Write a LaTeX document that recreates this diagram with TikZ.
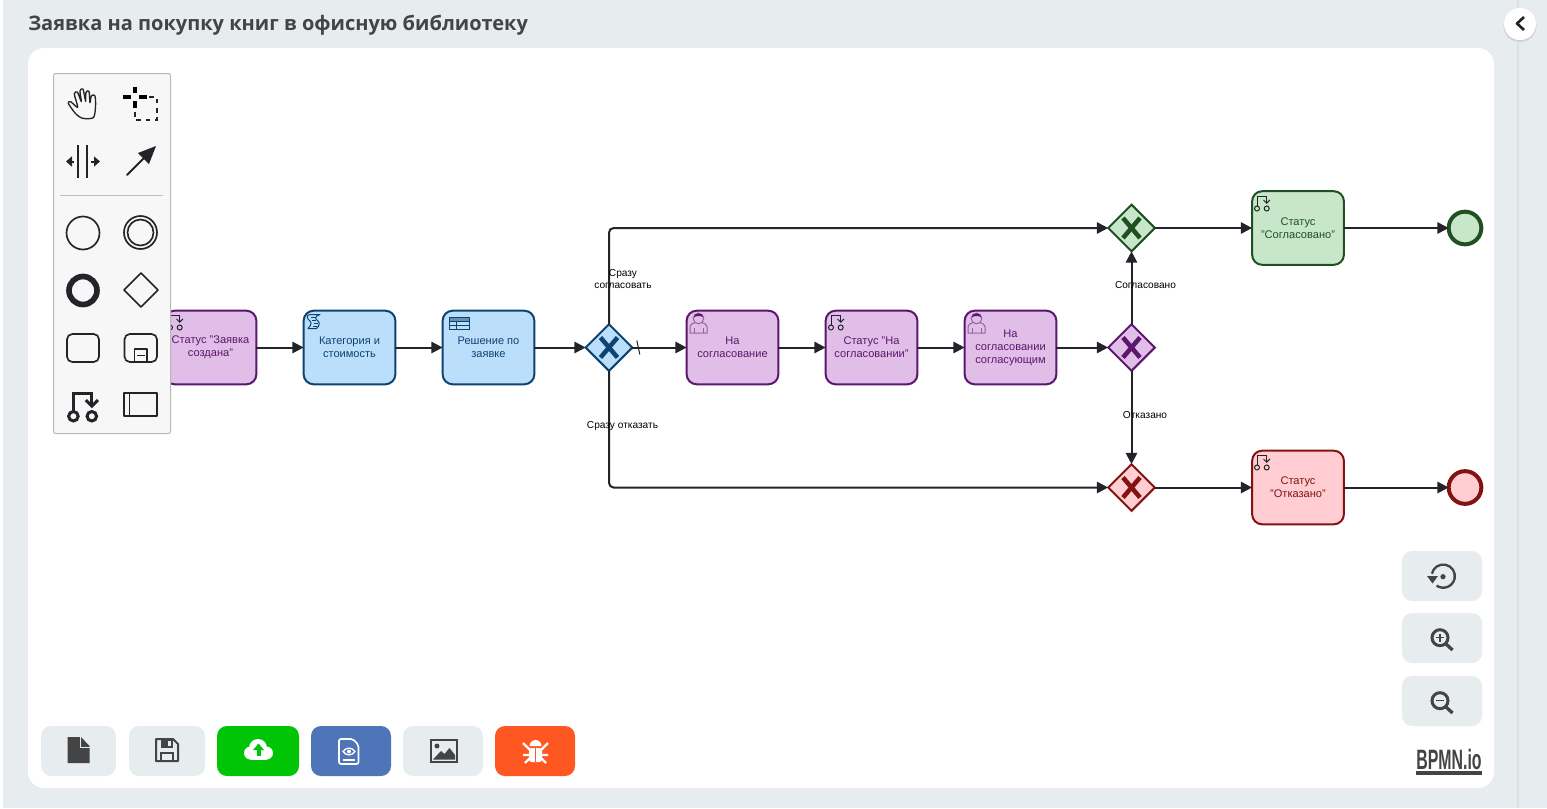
\documentclass[tikz,border=0pt]{standalone}
\usepackage{fontspec}
\setmainfont{Liberation Sans}
\newfontfamily\titlefont{Open Sans}
\usetikzlibrary{arrows.meta,shapes.geometric}
\definecolor{pagegray}{HTML}{E7ECEF}
\definecolor{inkdark}{HTML}{22242A}
\definecolor{icondark}{HTML}{444444}
\definecolor{purplefill}{HTML}{E1BEE7}
\definecolor{purpleline}{HTML}{5B176D}
\definecolor{bluefill}{HTML}{BBDEFB}
\definecolor{blueline}{HTML}{0D4372}
\definecolor{greenfill}{HTML}{C8E6C9}
\definecolor{greenline}{HTML}{205022}
\definecolor{redfill}{HTML}{FFCDD2}
\definecolor{redline}{HTML}{831311}
\definecolor{btngreen}{HTML}{00C406}
\definecolor{btnblue}{HTML}{4D75B8}
\definecolor{btnorange}{HTML}{FF5722}
\tikzset{
	bpmntask/.style n args={2}{draw=#2,fill=#1,text=#2,line width=1.5pt,rounded corners=7.5pt,minimum width=68.8pt,minimum height=55.2pt,align=center,inner sep=0pt,outer sep=0pt,font=\fontsize{8.3}{9.8}\selectfont},
	bpmngate/.style n args={2}{draw=#2,fill=#1,diamond,line width=1.5pt,minimum size=35pt,inner sep=0pt,outer sep=0pt},
	bpmnend/.style n args={2}{draw=#2,fill=#1,circle,line width=3pt,minimum size=24.5pt,inner sep=0pt,outer sep=0pt},
	flowline/.style={draw=inkdark,line width=1.5pt,-{Triangle[length=8.5pt,width=8.5pt]},rounded corners=3.5pt},
	flowlabel/.style={text=black,align=center,inner sep=0pt,font=\fontsize{7.6}{9.6}\selectfont},
	uibutton/.style={fill=pagegray,rounded corners=7.5pt,minimum width=#1,minimum height=37.5pt,inner sep=0pt},
	iconline/.style={draw=inkdark,line width=1.25pt,line join=round}
}
\def\statusmark#1#2{
	\draw[#1,line width=#2] (6,14.5) -- (6,5.5) -- (15.7,5.5) -- (15.7,12);
	\draw[#1,line width=#2] (12.5,9) -- (15.7,12.2) -- (18.9,9);
	\draw[#1,line width=#2] (6,17.5) circle[radius=2.5];
	\draw[#1,line width=#2] (15.7,17.5) circle[radius=2.5];
}
\def\usermark{
	\draw[purpleline!55!purplefill,fill=purplefill,line width=.75pt] (4,23) -- (4,16.5) .. controls (4,14) and (7,13.5) .. (9.5,12.5) -- (16,12.5) .. controls (18,13.5) and (21,14) .. (21,16.5) -- (21,23) -- cycle;
	\draw[purpleline!55!purplefill,line width=.75pt] (8,23) -- (8,18) (17,23) -- (17,18);
	\draw[purpleline!55!purplefill,fill=purplefill,line width=.75pt] (12.5,8.5) circle[radius=5.3];
	\fill[purpleline] (7.5,7.5) .. controls (8,2) and (17,2) .. (17.6,7.5) .. controls (15,5.5) and (10,5.5) .. (7.5,7.5) -- cycle;
}
\def\gatecross#1#2{
	\draw[#2,line width=3.4pt] (#1) ++(-8.5,-10) -- ++(17,20);
	\draw[#2,line width=3.4pt] (#1) ++(8.5,-10) -- ++(-17,20);
}
\begin{document}
\begin{tikzpicture}[x=0.75pt,y=-0.75pt]
	\useasboundingbox (0,0) rectangle (1547,808);
	\fill[pagegray] (0,0) rectangle (1547,808);
	\fill[white] (0,0) rectangle (3,808);
	\draw[black!12,line width=1pt] (1518,0) -- (1518,808);
	\fill[white,rounded corners=12pt] (28,48) rectangle (1494,788);
	\node[anchor=west,text=icondark,inner sep=0pt,font=\titlefont\bfseries\fontsize{15}{18}\selectfont] (pagetitle) at (28,25) {Заявка на покупку книг в офисную библиотеку};

	%collapse button
	\fill[black!18] (1520,25.5) circle[radius=16.5];
	\node[circle,fill=white,minimum size=24pt,inner sep=0pt] (collapsebtn) at (1520,24) {};
	\draw[inkdark,line width=2pt,line join=round] (1524,17) -- (1517,23.5) -- (1524,30);

	%tasks
	\node[bpmntask={purplefill}{purpleline}] (taskcreated) at (210.5,347.5) {Статус "Заявка\\создана"};
	\node[bpmntask={bluefill}{blueline}] (taskcategory) at (349.5,347.5) {Категория и\\стоимость};
	\node[bpmntask={bluefill}{blueline}] (taskdecision) at (488.5,347.5) {Решение по\\заявке};
	\node[bpmntask={purplefill}{purpleline}] (taskapprove) at (732.5,347.5) {На\\согласование};
	\node[bpmntask={purplefill}{purpleline}] (taskpending) at (871.5,347.5) {Статус "На\\согласовании"};
	\node[bpmntask={purplefill}{purpleline}] (taskreview) at (1010.5,347.5) {На\\согласовании\\согласующим};
	\node[bpmntask={greenfill}{greenline}] (taskagreed) at (1298,228) {Статус\\"Согласовано"};
	\node[bpmntask={redfill}{redline}] (taskrefused) at (1298,487.5) {Статус\\"Отказано"};

	%gateways and ends
	\node[bpmngate={bluefill}{blueline}] (gatefirst) at (609,347.5) {};
	\node[bpmngate={purplefill}{purpleline}] (gatereview) at (1131.5,347.5) {};
	\node[bpmngate={greenfill}{greenline}] (gateagreed) at (1131.5,228) {};
	\node[bpmngate={redfill}{redline}] (gaterefused) at (1131.5,487.5) {};
	\gatecross{gatefirst}{blueline}
	\gatecross{gatereview}{purpleline}
	\gatecross{gateagreed}{greenline}
	\gatecross{gaterefused}{redline}
	\node[bpmnend={greenfill}{greenline}] (endagreed) at (1465,228) {};
	\node[bpmnend={redfill}{redline}] (endrefused) at (1465,487.5) {};

	%task markers
	\begin{scope}[shift={(164,310)}] \statusmark{inkdark}{.75pt} \end{scope}
	\begin{scope}[shift={(825,310)}] \statusmark{inkdark}{.75pt} \end{scope}
	\begin{scope}[shift={(1251,191)}] \statusmark{inkdark}{.75pt} \end{scope}
	\begin{scope}[shift={(1251,450)}] \statusmark{inkdark}{.75pt} \end{scope}
	\begin{scope}[shift={(686,310)}] \usermark \end{scope}
	\begin{scope}[shift={(964,310)}] \usermark \end{scope}
	\begin{scope}[shift={(303,310)}]
		\draw[blueline,line width=.75pt,line join=round] (7,4.5) .. controls (3,5) and (4,9) .. (6.5,10.5) .. controls (9,12.5) and (8.5,15) .. (5,18.5) -- (13.5,18.5) .. controls (17,15) and (17,12.5) .. (14.5,10.5) .. controls (12,9) and (11.5,6) .. (17,4.5) -- cycle;
		\draw[blueline,line width=.5pt] (8,7.5) -- (13,7.5) (9,10.5) -- (13,10.5) (10.5,13.5) -- (15,13.5) (10,16) -- (14,16);
	\end{scope}
	\begin{scope}[shift={(442,310)}]
		\fill[blueline!50!bluefill] (7,7) rectangle (27,11);
		\draw[blueline,line width=.75pt] (7,7) rectangle (27,19);
		\draw[blueline,line width=.75pt] (7,11) -- (27,11) (7,15) -- (27,15) (14,11) -- (14,19);
	\end{scope}

	%flows
	\draw[flowline] (taskcreated) -- (taskcategory);
	\draw[flowline] (taskcategory) -- (taskdecision);
	\draw[flowline] (taskdecision) -- (gatefirst);
	\draw[flowline] (gatefirst) -- (taskapprove);
	\draw[flowline] (taskapprove) -- (taskpending);
	\draw[flowline] (taskpending) -- (taskreview);
	\draw[flowline] (taskreview) -- (gatereview);
	\draw[flowline] (gatereview) -- (gateagreed);
	\draw[flowline] (gatereview) -- (gaterefused);
	\draw[flowline] (gatefirst.north) |- (gateagreed.west);
	\draw[flowline] (gatefirst.south) |- (gaterefused.west);
	\draw[flowline] (gateagreed) -- (taskagreed);
	\draw[flowline] (gaterefused) -- (taskrefused);
	\draw[flowline] (taskagreed) -- (endagreed);
	\draw[flowline] (taskrefused) -- (endrefused);
	\draw[inkdark,line width=.75pt] (gatefirst.east) ++(4.5,-7) -- ++(3,14);

	\node[flowlabel] (labelnow) at (623,279) {Сразу\\согласовать};
	\node[flowlabel] (labelno) at (622.5,426) {Сразу отказать};
	\node[flowlabel] (labelok) at (1145.5,285) {Согласовано};
	\node[flowlabel] (labelrefused) at (1145,415) {Отказано};

	%palette
	\draw[black!28,fill=black!3,line width=.75pt,rounded corners=1.5pt] (53.5,73.5) rectangle (170.5,433.5);
	\draw[black!25,line width=.75pt] (60,195.5) -- (163,195.5);
	\begin{scope}[shift={(40,60)},scale=.3333]
		\draw[inkdark,line width=1pt,line join=round] plot[smooth cycle,tension=.45] coordinates {(128,175) (106,160) (85,130) (92,125) (113,142) (103,102) (112,96) (124,125) (120,93) (129,87) (137,124) (138,97) (147,94) (150,128) (154,108) (164,106) (167,130) (161,172)};
	\end{scope}
	\draw[black,line width=3pt] (123,97) -- (131,97) (139,97) -- (147,97) (135,87) -- (135,93) (135,101) -- (135,108);
	\draw[inkdark,line width=1pt,dash pattern=on 3.5pt off 3.5pt] (135,112) -- (135,120) -| (157,97) -- (149,97);
	\draw[inkdark,line width=1.25pt] (78,145) -- (78,178) (87,145) -- (87,178);
	\draw[inkdark,line width=1.5pt,-{Triangle[length=4.5pt,width=7.5pt]}] (74,161.5) -- (66,161.5);
	\draw[inkdark,line width=1.5pt,-{Triangle[length=4.5pt,width=7.5pt]}] (91,161.5) -- (100,161.5);
	\fill[inkdark] (156,146) -- (149,164) -- (138,153) -- cycle;
	\draw[inkdark,line width=1.5pt,line cap=round] (127,175) -- (146,156);
	\draw[iconline] (83,233) circle[radius=16.5];
	\draw[iconline] (140.5,232.5) circle[radius=16.5];
	\draw[iconline] (140.5,232.5) circle[radius=13];
	\draw[inkdark,line width=4.25pt] (83,290.5) circle[radius=14];
	\draw[iconline] (141,273) -- (158,290) -- (141,307) -- (124,290) -- cycle;
	\draw[iconline,rounded corners=4pt] (67,334) rectangle (99,362);
	\draw[iconline,rounded corners=4pt] (124.5,334) rectangle (157,362);
	\draw[iconline] (134.5,349) rectangle (147,362);
	\draw[iconline] (137,355.5) -- (144.5,355.5);
	\begin{scope}[shift={(62,383)},scale=1.9]
		\statusmark{inkdark}{2.25pt}
	\end{scope}
	\draw[iconline,line width=1.5pt] (124,393) rectangle (157,416);
	\draw[iconline] (129.5,393) -- (129.5,416);

	%bottom buttons
	\node[uibutton=56pt] (btnnew) at (78.5,751) {};
	\node[uibutton=57pt] (btnsave) at (167,751) {};
	\node[uibutton=61.5pt,fill=btngreen] (btnupload) at (258,751) {};
	\node[uibutton=60pt,fill=btnblue] (btnpreview) at (351,751) {};
	\node[uibutton=60pt] (btnimage) at (443,751) {};
	\node[uibutton=60pt,fill=btnorange] (btnbug) at (535,751) {};
	\fill[icondark] (67.5,737) -- (81,737) -- (89.5,746) -- (89.5,763) -- (67.5,763) -- cycle;
	\draw[pagegray,line width=.75pt] (80,737) -- (80,747) -- (90,747);
	\draw[icondark,line width=1.5pt,line join=round] (156,739) -- (173,739) -- (178,744) -- (178,761) -- (156,761) -- cycle;
	\fill[icondark] (161,739) rectangle (173,748);
	\fill[pagegray] (168,741) rectangle (171,746);
	\draw[icondark,line width=1.25pt] (161,761) rectangle (173,753);
	\fill[white] (250.5,753) circle[radius=6.5];
	\fill[white] (258,748) circle[radius=9];
	\fill[white] (266.5,753) circle[radius=6.5];
	\fill[white] (250,752) rectangle (267,759.5);
	\fill[btngreen] (258.5,743.5) -- (253,750) -- (264,750) -- cycle;
	\fill[btngreen] (256.5,750) rectangle (260.5,755.5);
	\draw[white,line width=1.25pt,rounded corners=1.5pt] (339,739) -- (353,739) -- (358.5,745) -- (358.5,764) -- (339,764) -- cycle;
	\draw[white,line width=1pt] (343,751.5) .. controls (346,747) and (352,747) .. (355,751.5) .. controls (352,756) and (346,756) .. (343,751.5) -- cycle;
	\fill[white] (349,751.5) circle[radius=2];
	\draw[white,line width=1pt] (343,760) -- (354.5,760);
	\draw[icondark,line width=1.5pt] (431,740) rectangle (457,761.5);
	\fill[icondark] (437,746) circle[radius=2.5];
	\fill[icondark] (433,759.5) -- (441,751) -- (444.5,754) -- (449.5,748) -- (455,755) -- (455,759.5) -- cycle;
	\fill[white] (529.5,746) arc[start angle=180,end angle=0,radius=4.5pt] -- cycle;
	\fill[white,rounded corners=2pt] (529,748) rectangle (542,762);
	\draw[btnorange,line width=1pt] (535.5,748) -- (535.5,762);
	\draw[white,line width=1.75pt] (523,743) -- (530,750) (548,743) -- (541,750) (523,755) -- (530,755) (548,755) -- (541,755) (525,763) -- (530,758) (546,763) -- (541,758);

	%view buttons
	\node[uibutton=60pt] (btnreset) at (1442,576) {};
	\node[uibutton=60pt] (btnzoomin) at (1442,638) {};
	\node[uibutton=60pt] (btnzoomout) at (1442,701) {};
	\draw[icondark,line width=1.75pt] (1431.9,573.7) arc[start angle=168,end angle=-125,radius=8.7pt];
	\fill[icondark] (1427,576) -- (1438,576) -- (1432.5,583.5) -- cycle;
	\fill[icondark] (1443,576.7) circle[radius=2.6];
	\draw[icondark,line width=2.25pt] (1440,637.7) circle[radius=8];
	\draw[icondark,line width=2.5pt] (1446,644) -- (1452.5,650);
	\draw[icondark,line width=1pt] (1436,637.7) -- (1444,637.7) (1440,633.7) -- (1440,641.7);
	\draw[icondark,line width=2.25pt] (1440,700.7) circle[radius=8];
	\draw[icondark,line width=2.5pt] (1446,707) -- (1452.5,713);
	\draw[icondark,line width=1pt] (1436,700.7) -- (1444,700.7);
	\node[text=icondark,inner sep=0pt,xscale=.567,font=\bfseries\fontsize{21}{21}\selectfont] (logotext) at (1449,759) {BPMN.io};
	\fill[icondark] (1416,771) rectangle (1482,775);
\end{tikzpicture}
\end{document}
